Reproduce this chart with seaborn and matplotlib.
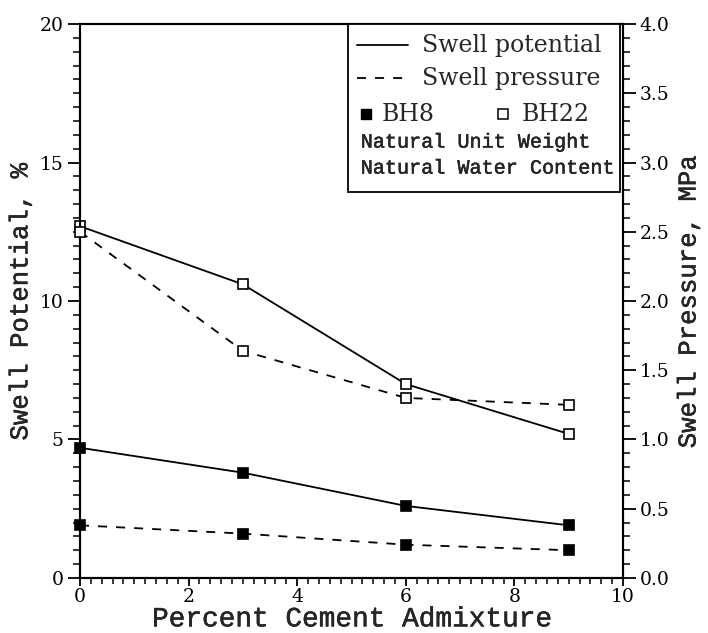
import matplotlib
matplotlib.use("Agg")
import matplotlib.pyplot as plt
import matplotlib.patheffects as pe
from matplotlib.ticker import MultipleLocator, FormatStrFormatter
from matplotlib.patches import Rectangle
from matplotlib.lines import Line2D
import seaborn as sns
import pandas as pd

# Cement admixture (%) and measured swell for two boreholes
cement_pct = [0, 3, 6, 9]
boreholes = ["BH8", "BH22"]
swell_potential = {"BH8": [4.7, 3.8, 2.6, 1.9],
                   "BH22": [12.7, 10.6, 7.0, 5.2]}          # %
swell_pressure = {"BH8": [0.38, 0.32, 0.24, 0.20],
                  "BH22": [2.50, 1.64, 1.30, 1.25]}         # MPa
marker_face = {"BH8": "black", "BH22": "white"}

sns.set_style("ticks")
plt.rcParams["font.family"] = ["DejaVu Serif"]

fig = plt.figure(figsize=(7.08, 6.33), dpi=100)
ax = fig.add_axes([0.113, 0.087, 0.767, 0.875])
ax2 = ax.twinx()

line_kw = dict(color="black", linewidth=1.3, marker="s", markersize=7,
               markeredgecolor="black", markeredgewidth=1.2, clip_on=False)

for bh in boreholes:
    df = pd.DataFrame({"cement": cement_pct,
                       "potential": swell_potential[bh],
                       "pressure": swell_pressure[bh]})
    sns.lineplot(data=df, x="cement", y="potential", ax=ax,
                 markerfacecolor=marker_face[bh], zorder=3, **line_kw)
    sns.lineplot(data=df, x="cement", y="pressure", ax=ax2,
                 markerfacecolor=marker_face[bh], linestyle=(0, (5, 5)),
                 zorder=3, **line_kw)

# axes limits and ticks
ax.set_xlim(0, 10)
ax.set_ylim(0, 20)
ax2.set_ylim(0, 4)
ax.xaxis.set_major_locator(MultipleLocator(2))
ax.xaxis.set_minor_locator(MultipleLocator(0.2))
ax.yaxis.set_major_locator(MultipleLocator(5))
ax.yaxis.set_minor_locator(MultipleLocator(0.5))
ax2.yaxis.set_major_locator(MultipleLocator(0.5))
ax2.yaxis.set_minor_locator(MultipleLocator(0.1))
ax2.yaxis.set_major_formatter(FormatStrFormatter("%.1f"))

for a in (ax, ax2):
    for s in a.spines.values():
        s.set_linewidth(1.5)
        s.set_color("black")
        s.set_visible(True)

ax.tick_params(axis="y", which="major", direction="out", length=9,
               width=1.3, labelsize=13.5, colors="black", pad=3)
ax.tick_params(axis="y", which="minor", direction="out", length=5,
               width=1.1, colors="black")
ax.tick_params(axis="x", which="major", direction="out", length=6,
               width=1.3, labelsize=13.5, colors="black", pad=1.5)
ax.tick_params(axis="x", which="minor", direction="out", length=4,
               width=1.1, colors="black")
ax.tick_params(top=False, right=False, which="both")
ax2.tick_params(axis="y", which="major", direction="out", length=9,
                width=1.3, labelsize=13.5, colors="black", pad=3)
ax2.tick_params(axis="y", which="minor", direction="out", length=5,
                width=1.1, colors="black")

# slightly heavier typewriter lettering for the axis titles and notes
mono = ["Liberation Mono", "DejaVu Sans Mono"]
heavy = [pe.withStroke(linewidth=0.3, foreground="black")]
ax.set_xlabel("Percent Cement Admixture", family=mono, size=20,
              labelpad=0, path_effects=heavy)
ax.set_ylabel("Swell Potential, %", family=mono, size=18.5,
              labelpad=5, path_effects=heavy)
ax2.set_ylabel("Swell Pressure, MPa", family=mono, size=18.5,
               labelpad=5, path_effects=heavy)

# key box in the upper right corner
tr = ax2.transAxes
ax2.add_patch(Rectangle((0.494, 0.697), 0.50, 0.303, transform=tr,
                        facecolor="white", edgecolor="black", linewidth=1.3,
                        zorder=5, clip_on=False))
ax2.add_line(Line2D([0.510, 0.604], [0.962, 0.962], transform=tr,
                    color="black", linewidth=1.3, zorder=6))
ax2.add_line(Line2D([0.510, 0.604], [0.902, 0.902], transform=tr,
                    color="black", linewidth=1.3, linestyle=(0, (5, 5)),
                    zorder=6))
ax2.text(0.630, 0.962, "Swell potential", transform=tr, fontsize=17,
         va="center", ha="left", zorder=6)
ax2.text(0.630, 0.902, "Swell pressure", transform=tr, fontsize=17,
         va="center", ha="left", zorder=6)
ax2.add_line(Line2D([0.527], [0.838], transform=tr, marker="s",
                    markersize=6.5, markerfacecolor="black",
                    markeredgecolor="black", linestyle="none", zorder=6))
ax2.add_line(Line2D([0.779], [0.838], transform=tr, marker="s",
                    markersize=6.5, markerfacecolor="white",
                    markeredgecolor="black", markeredgewidth=1.1,
                    linestyle="none", zorder=6))
ax2.text(0.556, 0.836, "BH8", transform=tr, fontsize=17,
         va="center", ha="left", zorder=6)
ax2.text(0.814, 0.836, "BH22", transform=tr, fontsize=17,
         va="center", ha="left", zorder=6)
ax2.text(0.517, 0.787, "Natural Unit Weight", transform=tr, family=mono,
         fontsize=14.5, va="center", ha="left", zorder=6, path_effects=heavy)
ax2.text(0.517, 0.740, "Natural Water Content", transform=tr, family=mono,
         fontsize=14.5, va="center", ha="left", zorder=6, path_effects=heavy)

fig.savefig("out.png", dpi=100)
